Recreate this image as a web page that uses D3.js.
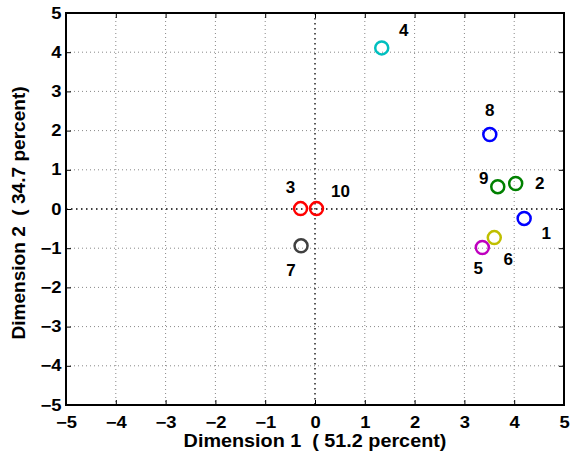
<!DOCTYPE html>
<html>
<head>
<meta charset="utf-8">
<script src="https://cdn.jsdelivr.net/npm/d3@7"></script>
<style>
  html, body { margin: 0; padding: 0; background: #fff; }
  text { font-family: "Liberation Sans", Arial, Helvetica, sans-serif; font-weight: bold; white-space: pre; }
</style>
</head>
<body>
<svg id="chart" width="571" height="463"></svg>
<script>
// Point identifiers and their coordinates on the two dimensions
const labels = ["1", "2", "3", "4", "5", "6", "7", "8", "9", "10"];
const dim1   = [4.20, 4.03, -0.29, 1.34, 3.36, 3.60, -0.28, 3.51, 3.67, 0.03];
const dim2   = [-0.24, 0.65, 0.01, 4.11, -0.98, -0.73, -0.94, 1.90, 0.57, 0.01];
const colors = ["#0000ff", "#008000", "#ff0000", "#00bfbf", "#bf00bf", "#bfbf00", "#404040", "#0000ff", "#008000", "#ff0000"];
// Label offsets (px) from each point
const labelDx = [22, 24, -10, 22, -4, 14, -10, 0, -14, 24];
const labelDy = [15, 0, -21, -17, 21, 22, 25, -24, -8, -17];

const ticks = [-5, -4, -3, -2, -1, 0, 1, 2, 3, 4, 5];
const xTitle = "Dimension 1  ( 51.2 percent)";
const yTitle = "Dimension 2  ( 34.7 percent)";

const svg = d3.select("#chart");
const L = 66, R = 564, T = 13, B = 405;

const x = d3.scaleLinear().domain([-5, 5]).range([L, R]);
const y = d3.scaleLinear().domain([-5, 5]).range([B, T]);
const fmt = d => d < 0 ? "\u2212" + Math.abs(d) : String(d);

// grid
const inner = ticks.filter(t => t > -5 && t < 5 && t !== 0);
const grid = svg.append("g");
grid.selectAll(".gx").data(inner).enter().append("line")
  .attr("x1", d => x(d)).attr("x2", d => x(d)).attr("y1", T).attr("y2", B)
  .attr("stroke", "#888").attr("stroke-width", 1).attr("stroke-dasharray", "1,3");
grid.selectAll(".gy").data(inner).enter().append("line")
  .attr("y1", d => y(d)).attr("y2", d => y(d)).attr("x1", L).attr("x2", R)
  .attr("stroke", "#888").attr("stroke-width", 1).attr("stroke-dasharray", "1,3");

// zero reference lines
svg.append("line").attr("x1", x(0)).attr("x2", x(0)).attr("y1", T).attr("y2", B)
  .attr("stroke", "#000").attr("stroke-width", 1.3).attr("stroke-dasharray", "1.5,3.5");
svg.append("line").attr("y1", y(0)).attr("y2", y(0)).attr("x1", L).attr("x2", R)
  .attr("stroke", "#000").attr("stroke-width", 1.3).attr("stroke-dasharray", "1.5,3.5");

// axes with inward ticks
const xAxis = d3.axisBottom(x).tickValues(ticks).tickSizeInner(-5).tickSizeOuter(0).tickPadding(14).tickFormat(fmt);
const yAxis = d3.axisLeft(y).tickValues(ticks).tickSizeInner(-5).tickSizeOuter(0).tickPadding(4).tickFormat(fmt);

const gx = svg.append("g").attr("transform", `translate(0,${B})`).call(xAxis);
const gy = svg.append("g").attr("transform", `translate(${L},0)`).call(yAxis);
const gxTop = svg.append("g").attr("transform", `translate(0,${T})`).call(d3.axisTop(x).tickValues(ticks).tickSizeInner(-5).tickSizeOuter(0).tickFormat(""));
const gyRight = svg.append("g").attr("transform", `translate(${R},0)`).call(d3.axisRight(y).tickValues(ticks).tickSizeInner(-5).tickSizeOuter(0).tickFormat(""));

[gx, gy, gxTop, gyRight].forEach(g => {
  g.select(".domain").remove();
  g.selectAll(".tick line").attr("stroke", "#000").attr("stroke-width", 1);
  g.selectAll(".tick text").attr("fill", "#000").style("font-size", "16px").style("font-weight", "bold")
    .style("font-family", "'Liberation Sans', Arial, sans-serif")
    .attr("transform", "scale(1.15,1)");
});
gx.selectAll(".tick text").attr("dy", "0.55em");

// frame
svg.append("rect").attr("x", L).attr("y", T).attr("width", R - L).attr("height", B - T)
  .attr("fill", "none").attr("stroke", "#000").attr("stroke-width", 2);

// points
const idx = d3.range(labels.length);
svg.append("g").selectAll("circle").data(idx).enter().append("circle")
  .attr("cx", i => x(dim1[i])).attr("cy", i => y(dim2[i])).attr("r", 6.5)
  .attr("fill", "none").attr("stroke", i => colors[i]).attr("stroke-width", 2.5);

svg.append("g").selectAll("text").data(idx).enter().append("text")
  .attr("x", i => x(dim1[i]) + labelDx[i]).attr("y", i => y(dim2[i]) + labelDy[i])
  .attr("text-anchor", "middle").attr("dominant-baseline", "central")
  .style("font-size", "17px").attr("fill", "#000")
  .text(i => labels[i]);

// axis titles
svg.append("text").attr("transform", "translate(315,447) scale(1.1,1)").attr("text-anchor", "middle")
  .style("font-size", "18px").text(xTitle);
svg.append("text").attr("transform", "translate(25,213) rotate(-90) scale(1.06,1)").attr("text-anchor", "middle")
  .style("font-size", "18px").text(yTitle);
</script>
</body>
</html>
